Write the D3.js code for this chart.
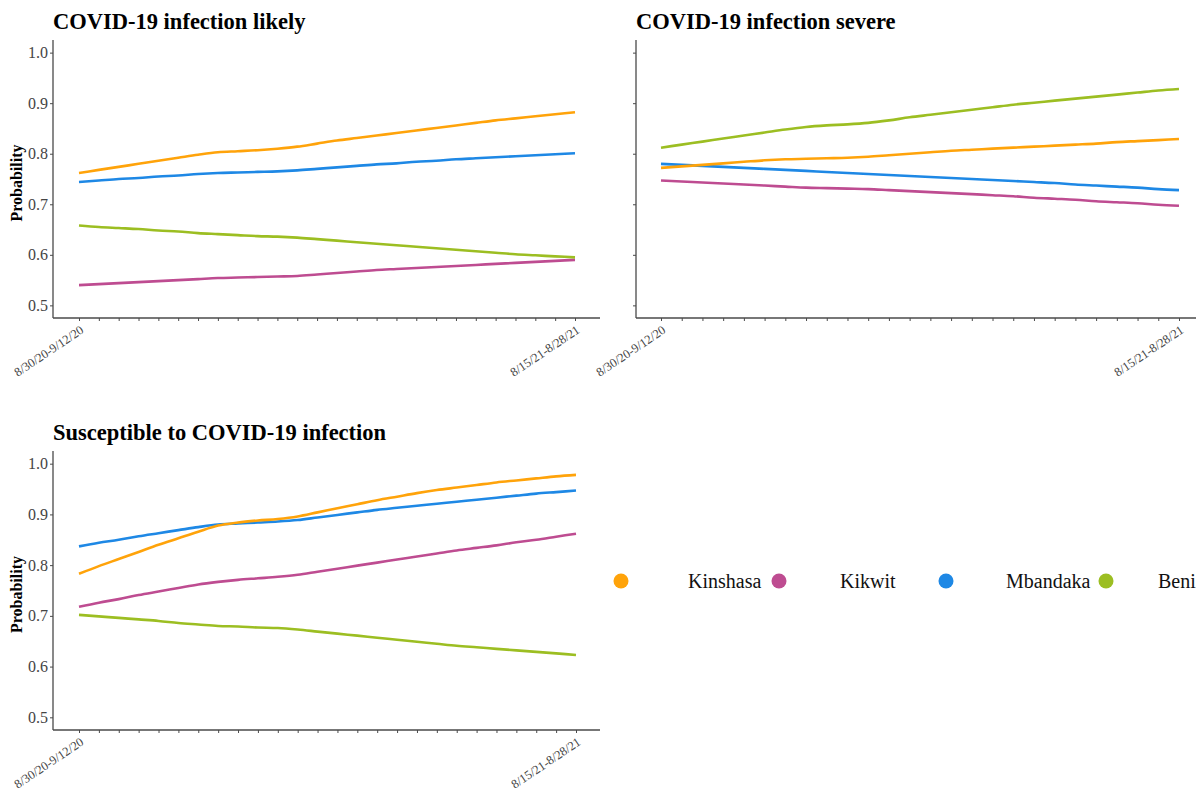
<!DOCTYPE html>
<html>
<head>
<meta charset="utf-8">
<script src="https://cdn.jsdelivr.net/npm/d3@7"></script>
<style>
  html, body { margin: 0; padding: 0; background: #fff; }
  svg { display: block; }
  text { font-family: "Liberation Serif", "Times New Roman", serif; }
</style>
</head>
<body>
<svg id="chart" width="1196" height="802"></svg>
<script>
// Two-week reporting periods (x categories)
const periods = [
  "8/30/20-9/12/20", "9/13/20-9/26/20", "9/27/20-10/10/20", "10/11/20-10/24/20",
  "10/25/20-11/7/20", "11/8/20-11/21/20", "11/22/20-12/5/20", "12/6/20-12/19/20",
  "12/20/20-1/2/21", "1/3/21-1/16/21", "1/17/21-1/30/21", "1/31/21-2/13/21",
  "2/14/21-2/27/21", "2/28/21-3/13/21", "3/14/21-3/27/21", "3/28/21-4/10/21",
  "4/11/21-4/24/21", "4/25/21-5/8/21", "5/9/21-5/22/21", "5/23/21-6/5/21",
  "6/6/21-6/19/21", "6/20/21-7/3/21", "7/4/21-7/17/21", "7/18/21-7/31/21",
  "8/1/21-8/14/21", "8/15/21-8/28/21"
];
const labeledPeriods = ["8/30/20-9/12/20", "8/15/21-8/28/21"];
const yTicks = [0.5, 0.6, 0.7, 0.8, 0.9, 1.0];

const cities = ["Kinshasa", "Kikwit", "Mbandaka", "Beni"];
const cityColors = ["#FFA30A", "#BE4C91", "#1E88E5", "#9CBE22"];

const panelTitles = ["COVID-19 infection likely", "COVID-19 infection severe", "Susceptible to COVID-19 infection"];

// COVID-19 infection likely
const likelyKinshasa = [0.762,0.768,0.774,0.780,0.786,0.792,0.798,0.803,0.805,0.807,0.810,0.814,0.820,0.826,0.831,0.836,0.841,0.846,0.851,0.856,0.861,0.866,0.870,0.874,0.878,0.882];
const likelyKikwit   = [0.540,0.542,0.544,0.546,0.548,0.550,0.552,0.554,0.555,0.556,0.557,0.558,0.561,0.564,0.567,0.570,0.572,0.574,0.576,0.578,0.580,0.582,0.584,0.586,0.588,0.590];
const likelyMbandaka = [0.744,0.747,0.750,0.752,0.755,0.757,0.760,0.762,0.763,0.764,0.765,0.767,0.770,0.773,0.776,0.779,0.781,0.784,0.786,0.789,0.791,0.793,0.795,0.797,0.799,0.801];
const likelyBeni     = [0.658,0.655,0.653,0.651,0.648,0.646,0.643,0.641,0.639,0.637,0.636,0.634,0.631,0.628,0.625,0.622,0.619,0.616,0.613,0.610,0.607,0.604,0.601,0.599,0.597,0.595];

// COVID-19 infection severe
const severeKinshasa = [0.772,0.775,0.778,0.781,0.784,0.787,0.789,0.790,0.791,0.792,0.794,0.797,0.800,0.803,0.806,0.808,0.810,0.812,0.814,0.816,0.818,0.820,0.823,0.825,0.827,0.829];
const severeKikwit   = [0.747,0.745,0.743,0.741,0.739,0.737,0.735,0.733,0.732,0.731,0.730,0.728,0.726,0.724,0.722,0.720,0.718,0.716,0.713,0.711,0.709,0.706,0.704,0.702,0.699,0.697];
const severeMbandaka = [0.780,0.778,0.776,0.774,0.772,0.770,0.768,0.766,0.764,0.762,0.760,0.758,0.756,0.754,0.752,0.750,0.748,0.746,0.744,0.742,0.739,0.737,0.735,0.733,0.730,0.728];
const severeBeni     = [0.812,0.818,0.824,0.830,0.836,0.842,0.848,0.853,0.856,0.858,0.861,0.866,0.872,0.877,0.882,0.887,0.892,0.897,0.901,0.905,0.909,0.913,0.917,0.921,0.925,0.928];

// Susceptible to COVID-19 infection
const suscKinshasa = [0.783,0.798,0.812,0.826,0.840,0.853,0.866,0.878,0.884,0.888,0.891,0.896,0.904,0.912,0.920,0.928,0.935,0.942,0.948,0.953,0.958,0.963,0.967,0.971,0.975,0.978];
const suscKikwit   = [0.718,0.726,0.733,0.741,0.748,0.755,0.762,0.767,0.771,0.774,0.777,0.781,0.787,0.793,0.799,0.805,0.811,0.817,0.823,0.829,0.834,0.839,0.845,0.850,0.856,0.862];
const suscMbandaka = [0.837,0.844,0.850,0.857,0.863,0.869,0.875,0.880,0.882,0.884,0.886,0.889,0.894,0.899,0.904,0.909,0.913,0.917,0.921,0.925,0.929,0.933,0.937,0.941,0.944,0.947];
const suscBeni     = [0.702,0.699,0.696,0.693,0.690,0.686,0.683,0.680,0.679,0.677,0.676,0.673,0.669,0.665,0.661,0.657,0.653,0.649,0.645,0.641,0.638,0.635,0.632,0.629,0.626,0.623];

const panelSeries = [
  [likelyKinshasa, likelyKikwit, likelyMbandaka, likelyBeni],
  [severeKinshasa, severeKikwit, severeMbandaka, severeBeni],
  [suscKinshasa, suscKikwit, suscMbandaka, suscBeni]
];

// Panel geometry: axis frame and first/last category positions
const panels = [
  { left: 53,  right: 600,  top: 40,  bottom: 318, x0: 79,  x1: 575,  yLabels: true  },
  { left: 636, right: 1196, top: 40,  bottom: 318, x0: 661, x1: 1179, yLabels: false },
  { left: 53,  right: 600,  top: 451, bottom: 730, x0: 79,  x1: 576,  yLabels: true  }
];

const serif = "Liberation Serif, Times New Roman, serif";
const svg = d3.select("#chart");
const axisColor = "#4a4a4a";
const tickTextColor = "#444";

// Series drawing order
const drawOrder = [1, 3, 2, 0];

panels.forEach((p, pi) => {
  const g = svg.append("g");

  const x = d3.scalePoint().domain(periods).range([p.x0, p.x1]);
  const y = d3.scaleLinear().domain([0.475, 1.025]).range([p.bottom, p.top]);

  // Title
  g.append("text")
    .attr("x", p.left)
    .attr("y", p.top - 11)
    .attr("font-family", serif)
    .attr("font-size", 22.5)
    .attr("font-weight", "bold")
    .attr("fill", "#000")
    .text(panelTitles[pi]);

  // Lines
  const line = d3.line()
    .x((d, i) => x(periods[i]))
    .y(d => y(d))
    .curve(d3.curveMonotoneX);

  drawOrder.forEach(ci => {
    g.append("path")
      .datum(panelSeries[pi][ci])
      .attr("fill", "none")
      .attr("stroke", cityColors[ci])
      .attr("stroke-width", 2.6)
      .attr("stroke-linejoin", "round")
      .attr("d", line);
  });

  // Y axis
  const yAxis = d3.axisLeft(y)
    .tickValues(yTicks)
    .tickSize(3)
    .tickSizeOuter(0)
    .tickFormat(p.yLabels ? d3.format(".1f") : () => "");
  const yg = g.append("g").attr("transform", `translate(${p.left},0)`).call(yAxis);
  yg.select(".domain").remove();
  yg.selectAll(".tick line").attr("stroke", axisColor);
  yg.selectAll(".tick text")
    .attr("fill", tickTextColor)
    .attr("font-size", 16)
    .attr("x", -5)
    .attr("font-family", serif);

  // X axis
  const xAxis = d3.axisBottom(x)
    .tickSize(3)
    .tickSizeOuter(0)
    .tickFormat(d => labeledPeriods.includes(d) ? d : "");
  const xg = g.append("g").attr("transform", `translate(0,${p.bottom})`).call(xAxis);
  xg.select(".domain").remove();
  xg.selectAll(".tick line").attr("stroke", axisColor);
  xg.selectAll(".tick text")
    .attr("fill", tickTextColor)
    .attr("font-size", 12.5)
    .attr("font-family", serif)
    .attr("text-anchor", "end")
    .attr("dy", 0)
    .attr("transform", "translate(5,14) rotate(-34)")
    .attr("y", 0)
    .attr("x", 0);

  // Axis frame lines
  g.append("line")
    .attr("x1", p.left).attr("x2", p.left)
    .attr("y1", p.top).attr("y2", p.bottom)
    .attr("stroke", axisColor).attr("stroke-width", 1.3);
  g.append("line")
    .attr("x1", p.left).attr("x2", p.right)
    .attr("y1", p.bottom).attr("y2", p.bottom)
    .attr("stroke", axisColor).attr("stroke-width", 1.3);

  // Y axis title
  if (p.yLabels) {
    g.append("text")
      .attr("transform", `translate(22,${(p.top + p.bottom) / 2 + 4}) rotate(-90)`)
      .attr("text-anchor", "middle")
      .attr("font-family", serif)
      .attr("font-size", 16)
      .attr("font-weight", "bold")
      .attr("fill", "#000")
      .text("Probability");
  }
});

// Legend
const legendCircleX = [621, 779, 946, 1106];
const legendTextX = [688, 840, 1006, 1158];
const legend = svg.append("g");
cities.forEach((c, i) => {
  legend.append("circle")
    .attr("cx", legendCircleX[i])
    .attr("cy", 581)
    .attr("r", 7.5)
    .attr("fill", cityColors[i]);
  legend.append("text")
    .attr("x", legendTextX[i])
    .attr("y", 588)
    .attr("font-family", serif)
    .attr("font-size", 20)
    .attr("fill", "#111")
    .text(c);
});
</script>
</body>
</html>
